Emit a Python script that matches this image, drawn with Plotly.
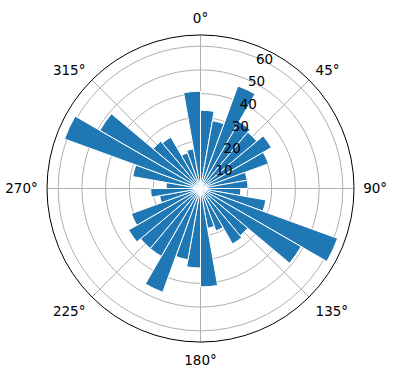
import plotly.graph_objects as go

theta_deg = [5, 15, 25, 35, 45, 55, 65, 75, 85, 95, 105, 115, 125, 135, 145, 155, 165, 175,
             185, 195, 205, 215, 225, 235, 245, 255, 265, 275, 285, 295, 305, 315, 325, 335, 345, 355]
radii = [33, 29, 46, 32.5, 31, 34.5, 30.5, 20, 20, 17, 28, 61.5, 49, 26, 27, 19, 17, 41.5,
         33.5, 30.5, 46.5, 33, 33, 35, 31, 17.5, 21, 14.5, 29, 61, 49, 26, 25, 16, 17, 41]
bar_width_deg = 10
angle_ticks = [0, 45, 90, 135, 180, 225, 270, 315]
angle_labels = [f"{a}°" for a in angle_ticks]
r_ticks = [10, 20, 30, 40, 50, 60]

fig = go.Figure()
fig.add_trace(go.Barpolar(
    r=radii, theta=theta_deg, width=[bar_width_deg] * len(radii),
    marker=dict(color="#1f77b4", line=dict(color="white", width=1)),
))

fig.update_layout(
    width=396, height=380,
    margin=dict(l=0, r=0, t=0, b=0),
    paper_bgcolor="white",
    showlegend=False,
    font=dict(family="DejaVu Sans", size=13.5, color="black"),
    polar=dict(
        domain=dict(x=[47 / 396, 354 / 396], y=[38 / 380, 345 / 380]),
        bgcolor="white",
        bargap=0,
        angularaxis=dict(
            rotation=90, direction="clockwise",
            tickmode="array", tickvals=angle_ticks, ticktext=angle_labels,
            showline=True, linecolor="black", linewidth=1,
            showgrid=True, gridcolor="#b0b0b0", gridwidth=1,
            ticks="outside", ticklen=6, tickcolor="rgba(0,0,0,0)",
        ),
        radialaxis=dict(
            range=[0, 64.7], angle=70, side="clockwise",
            tickmode="array", tickvals=r_ticks,
            showline=False, ticks="", tickangle=70,
            showgrid=True, gridcolor="#b0b0b0", gridwidth=1,
        ),
    ),
)

fig.write_html("out.html")
